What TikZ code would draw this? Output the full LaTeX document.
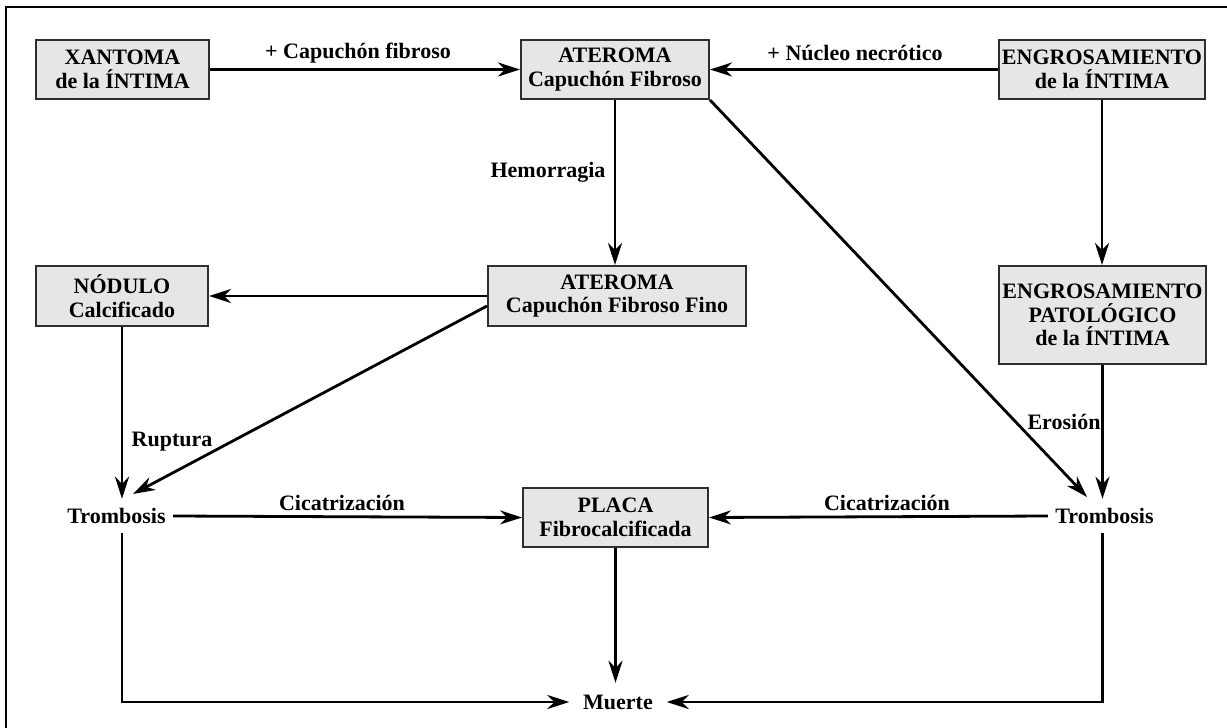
\documentclass[tikz,border=0pt]{standalone}
\usepackage{fontspec}
\setmainfont{Liberation Serif}
\usetikzlibrary{arrows.meta,calc}
\definecolor{boxfill}{HTML}{E6E6E6}
\definecolor{boxline}{HTML}{2E2E2E}
\tikzset{
  stagebox/.style={draw=boxline, line width=2pt, fill=boxfill, align=center,
    inner sep=0pt, font=\fontsize{22}{23.5}\selectfont\bfseries},
  plain/.style={align=center, inner sep=0pt, font=\fontsize{22}{23.5}\selectfont\bfseries},
  lbl/.style={inner sep=0pt, font=\fontsize{22}{23.5}\selectfont\bfseries},
  flow/.style={line width=2.8pt, -{Stealth[length=22pt,width=14pt,inset=7pt]}},
}
\begin{document}
\begin{tikzpicture}[x=1pt,y=-1pt]
\clip (0,0) rectangle (1227,728);
\useasboundingbox (0,0) rectangle (1227,728);
% outer frame
\draw[line width=1.5pt] (6,7) rectangle (1245,750);

% stages
\node[stagebox, minimum width=173pt, minimum height=59pt] (xan) at (122.5,69.5) {XANTOMA\\de la ÍNTIMA};
\node[stagebox, minimum width=188pt, minimum height=59pt] (ate) at (615,69.5) {ATEROMA\\Capuchón Fibroso};
\node[stagebox, minimum width=206pt, minimum height=59pt] (eng) at (1102,69.5) {ENGROSAMIENTO\\de la ÍNTIMA};
\node[stagebox, minimum width=172pt, minimum height=60pt] (nod) at (122,296) {NÓDULO\\Calcificado};
\node[stagebox, minimum width=258pt, minimum height=60pt] (fino) at (617,296) {ATEROMA\\Capuchón Fibroso Fino};
\node[stagebox, minimum width=207pt, minimum height=98pt] (pat) at (1102.5,315) {ENGROSAMIENTO\\PATOLÓGICO\\de la ÍNTIMA};
\node[stagebox, minimum width=185pt, minimum height=59pt] (placa) at (615.5,517.5) {PLACA\\Fibrocalcificada};

% outcomes
\node[plain, minimum width=113pt, minimum height=34pt] (tromL) at (116.5,516) {Trombosis};
\node[plain, minimum width=113pt, minimum height=34pt] (tromR) at (1104.5,516) {Trombosis};
\node[plain, minimum width=97pt, minimum height=38pt] (muerte) at (618,702) {Muerte};

% diagonal end points
\coordinate (finoOut) at ($(fino.west)+(0,10)$);
\coordinate (tipL) at (133,494);
\coordinate (tipR) at (1087,497);

% connectors
\draw[flow] (xan.east) -- (ate.west);
\draw[flow] (eng.west) -- (ate.east);
\draw[flow] (ate.south) -- (ate.south |- fino.north);
\draw[flow] (eng.south) -- (eng.south |- pat.north);
\draw[flow] (fino.west) -- (nod.east);
\draw[flow] (finoOut) -- (tipL);
\draw[flow] (ate.south east) -- (tipR);
\draw[flow] (nod.south) -- (nod.south |- tromL.north);
\draw[flow] (pat.south) -- (pat.south |- tromR.north);
\draw[flow] (tromL.east) -- (placa.west);
\draw[flow] (tromR.west) -- (placa.east);
\draw[flow] (placa.south) -- (placa.south |- muerte.north);
\draw[flow] (nod.south |- tromL.south) -- (nod.south |- muerte.west) -- (muerte.west);
\draw[flow] (pat.south |- tromR.south) -- (pat.south |- muerte.east) -- (muerte.east);

% connector labels
\node[lbl] (l1) at (358,53) {+ Capuchón fibroso};
\node[lbl] (l2) at (855,53) {+ Núcleo necrótico};
\node[lbl] (l3) at (548,172) {Hemorragia};
\node[lbl] (l4) at (172,442) {Ruptura};
\node[lbl] (l5) at (1064,422) {Erosión};
\node[lbl] (l6) at (342,503) {Cicatrización};
\node[lbl] (l7) at (887,503) {Cicatrización};
\end{tikzpicture}
\end{document}
